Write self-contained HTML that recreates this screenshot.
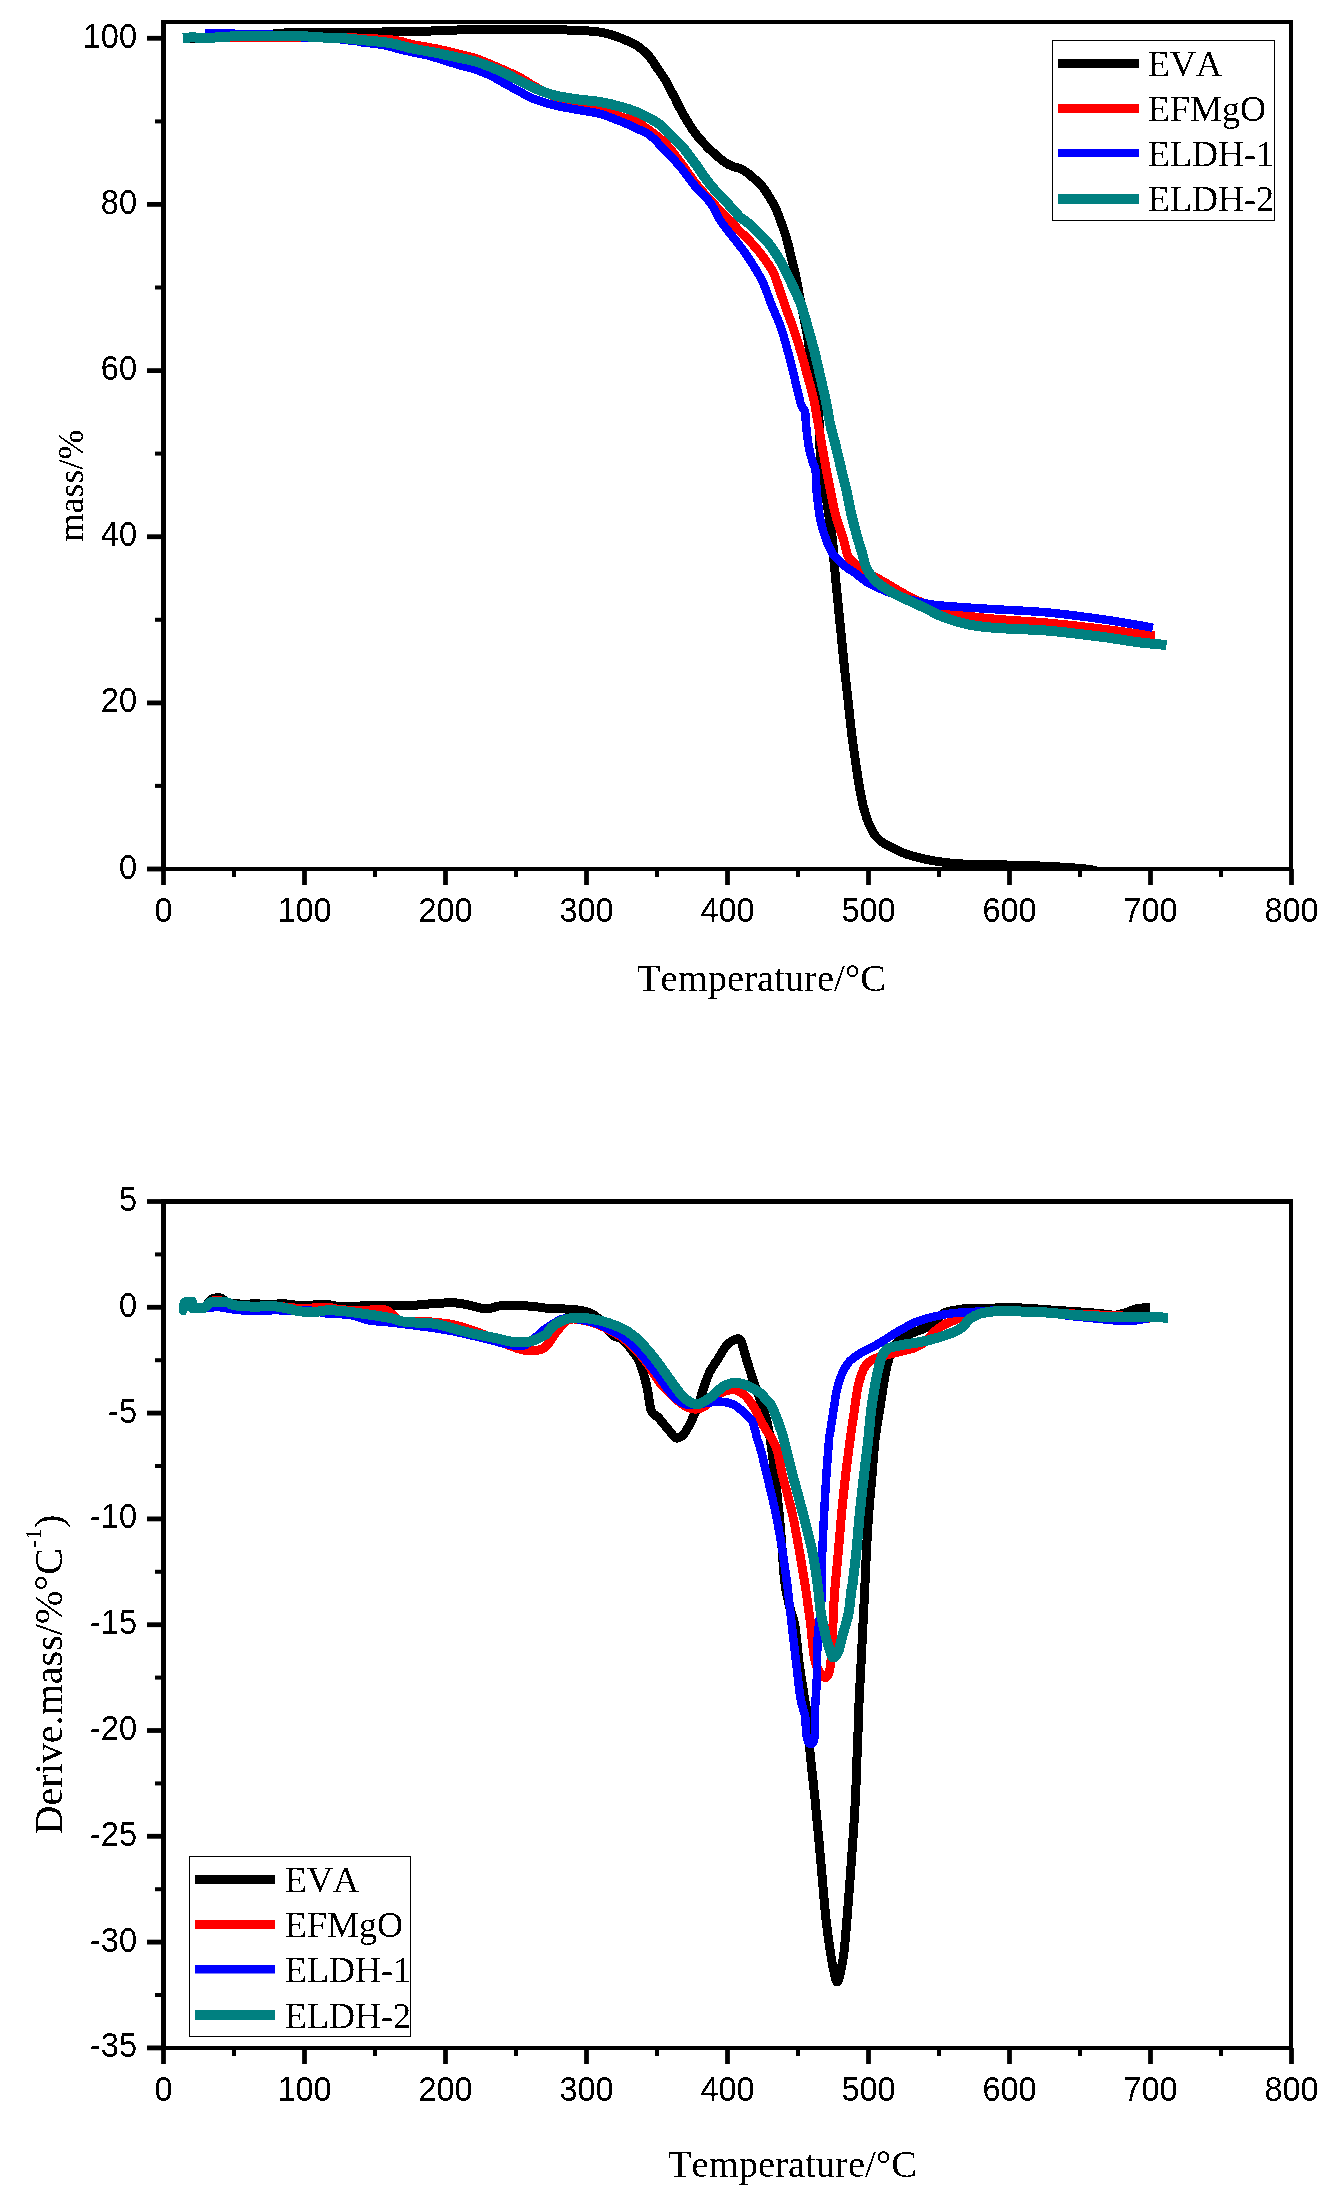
<!DOCTYPE html>
<html><head><meta charset="utf-8"><style>html,body{margin:0;padding:0;background:#fff;}svg{display:block;}</style></head>
<body><svg width="1330" height="2197" viewBox="0 0 1330 2197"><defs><filter id="al" x="0" y="0" width="1" height="1" filterUnits="objectBoundingBox"><feComponentTransfer><feFuncA type="discrete" tableValues="0 1"/></feComponentTransfer></filter><clipPath id="c1"><rect x="163" y="22" width="1128" height="847"/></clipPath><clipPath id="c2"><rect x="163" y="1201" width="1128" height="847"/></clipPath></defs>
<rect x="161" y="20" width="5" height="851" fill="#000"/>
<rect x="161" y="20" width="1132" height="4" fill="#000"/>
<rect x="1289" y="20" width="4" height="851" fill="#000"/>
<rect x="161" y="867" width="1132" height="4" fill="#000"/>
<rect x="161.1" y="869" width="4.8" height="16" fill="#000"/>
<rect x="232.0" y="869" width="4" height="8" fill="#000"/>
<rect x="302.1" y="869" width="4.8" height="16" fill="#000"/>
<rect x="373.0" y="869" width="4" height="8" fill="#000"/>
<rect x="443.1" y="869" width="4.8" height="16" fill="#000"/>
<rect x="514.0" y="869" width="4" height="8" fill="#000"/>
<rect x="584.1" y="869" width="4.8" height="16" fill="#000"/>
<rect x="655.0" y="869" width="4" height="8" fill="#000"/>
<rect x="725.1" y="869" width="4.8" height="16" fill="#000"/>
<rect x="796.0" y="869" width="4" height="8" fill="#000"/>
<rect x="866.1" y="869" width="4.8" height="16" fill="#000"/>
<rect x="937.0" y="869" width="4" height="8" fill="#000"/>
<rect x="1007.1" y="869" width="4.8" height="16" fill="#000"/>
<rect x="1078.0" y="869" width="4" height="8" fill="#000"/>
<rect x="1148.1" y="869" width="4.8" height="16" fill="#000"/>
<rect x="1219.0" y="869" width="4" height="8" fill="#000"/>
<rect x="1289.1" y="869" width="4.8" height="16" fill="#000"/>
<rect x="147" y="866.6" width="15" height="4.8" fill="#000"/>
<rect x="155" y="783.9" width="7" height="4" fill="#000"/>
<rect x="147" y="700.5" width="15" height="4.8" fill="#000"/>
<rect x="155" y="617.8" width="7" height="4" fill="#000"/>
<rect x="147" y="534.3" width="15" height="4.8" fill="#000"/>
<rect x="155" y="451.6" width="7" height="4" fill="#000"/>
<rect x="147" y="368.2" width="15" height="4.8" fill="#000"/>
<rect x="155" y="285.5" width="7" height="4" fill="#000"/>
<rect x="147" y="202.0" width="15" height="4.8" fill="#000"/>
<rect x="155" y="119.4" width="7" height="4" fill="#000"/>
<rect x="147" y="35.9" width="15" height="4.8" fill="#000"/>
<text filter="url(#al)" transform="translate(137,878.5) scale(1,1.07)" font-family="Liberation Sans" font-size="32.5" text-anchor="end">0</text>
<text filter="url(#al)" transform="translate(137,712.4) scale(1,1.07)" font-family="Liberation Sans" font-size="32.5" text-anchor="end">20</text>
<text filter="url(#al)" transform="translate(137,546.2) scale(1,1.07)" font-family="Liberation Sans" font-size="32.5" text-anchor="end">40</text>
<text filter="url(#al)" transform="translate(137,380.1) scale(1,1.07)" font-family="Liberation Sans" font-size="32.5" text-anchor="end">60</text>
<text filter="url(#al)" transform="translate(137,213.9) scale(1,1.07)" font-family="Liberation Sans" font-size="32.5" text-anchor="end">80</text>
<text filter="url(#al)" transform="translate(137,47.8) scale(1,1.07)" font-family="Liberation Sans" font-size="32.5" text-anchor="end">100</text>
<text filter="url(#al)" transform="translate(163.5,922) scale(1,1.07)" font-family="Liberation Sans" font-size="32.5" text-anchor="middle">0</text>
<text filter="url(#al)" transform="translate(304.5,922) scale(1,1.07)" font-family="Liberation Sans" font-size="32.5" text-anchor="middle">100</text>
<text filter="url(#al)" transform="translate(445.5,922) scale(1,1.07)" font-family="Liberation Sans" font-size="32.5" text-anchor="middle">200</text>
<text filter="url(#al)" transform="translate(586.5,922) scale(1,1.07)" font-family="Liberation Sans" font-size="32.5" text-anchor="middle">300</text>
<text filter="url(#al)" transform="translate(727.5,922) scale(1,1.07)" font-family="Liberation Sans" font-size="32.5" text-anchor="middle">400</text>
<text filter="url(#al)" transform="translate(868.5,922) scale(1,1.07)" font-family="Liberation Sans" font-size="32.5" text-anchor="middle">500</text>
<text filter="url(#al)" transform="translate(1009.5,922) scale(1,1.07)" font-family="Liberation Sans" font-size="32.5" text-anchor="middle">600</text>
<text filter="url(#al)" transform="translate(1150.5,922) scale(1,1.07)" font-family="Liberation Sans" font-size="32.5" text-anchor="middle">700</text>
<text filter="url(#al)" transform="translate(1291.5,922) scale(1,1.07)" font-family="Liberation Sans" font-size="32.5" text-anchor="middle">800</text>
<rect x="161" y="1199" width="5" height="851" fill="#000"/>
<rect x="161" y="1199" width="1132" height="5" fill="#000"/>
<rect x="1289" y="1199" width="4" height="851" fill="#000"/>
<rect x="161" y="2046" width="1132" height="4" fill="#000"/>
<rect x="161.1" y="2048" width="4.8" height="16" fill="#000"/>
<rect x="232.0" y="2048" width="4" height="8" fill="#000"/>
<rect x="302.1" y="2048" width="4.8" height="16" fill="#000"/>
<rect x="373.0" y="2048" width="4" height="8" fill="#000"/>
<rect x="443.1" y="2048" width="4.8" height="16" fill="#000"/>
<rect x="514.0" y="2048" width="4" height="8" fill="#000"/>
<rect x="584.1" y="2048" width="4.8" height="16" fill="#000"/>
<rect x="655.0" y="2048" width="4" height="8" fill="#000"/>
<rect x="725.1" y="2048" width="4.8" height="16" fill="#000"/>
<rect x="796.0" y="2048" width="4" height="8" fill="#000"/>
<rect x="866.1" y="2048" width="4.8" height="16" fill="#000"/>
<rect x="937.0" y="2048" width="4" height="8" fill="#000"/>
<rect x="1007.1" y="2048" width="4.8" height="16" fill="#000"/>
<rect x="1078.0" y="2048" width="4" height="8" fill="#000"/>
<rect x="1148.1" y="2048" width="4.8" height="16" fill="#000"/>
<rect x="1219.0" y="2048" width="4" height="8" fill="#000"/>
<rect x="1289.1" y="2048" width="4.8" height="16" fill="#000"/>
<rect x="147" y="1199.1" width="15" height="4.8" fill="#000"/>
<rect x="155" y="1252.4" width="7" height="4" fill="#000"/>
<rect x="147" y="1304.9" width="15" height="4.8" fill="#000"/>
<rect x="155" y="1358.2" width="7" height="4" fill="#000"/>
<rect x="147" y="1410.7" width="15" height="4.8" fill="#000"/>
<rect x="155" y="1464.0" width="7" height="4" fill="#000"/>
<rect x="147" y="1516.5" width="15" height="4.8" fill="#000"/>
<rect x="155" y="1569.8" width="7" height="4" fill="#000"/>
<rect x="147" y="1622.3" width="15" height="4.8" fill="#000"/>
<rect x="155" y="1675.6" width="7" height="4" fill="#000"/>
<rect x="147" y="1728.1" width="15" height="4.8" fill="#000"/>
<rect x="155" y="1781.4" width="7" height="4" fill="#000"/>
<rect x="147" y="1833.9" width="15" height="4.8" fill="#000"/>
<rect x="155" y="1887.2" width="7" height="4" fill="#000"/>
<rect x="147" y="1939.7" width="15" height="4.8" fill="#000"/>
<rect x="155" y="1993.0" width="7" height="4" fill="#000"/>
<rect x="147" y="2045.5" width="15" height="4.8" fill="#000"/>
<text filter="url(#al)" transform="translate(137,1211.0) scale(1,1.07)" font-family="Liberation Sans" font-size="32.5" text-anchor="end">5</text>
<text filter="url(#al)" transform="translate(137,1316.8) scale(1,1.07)" font-family="Liberation Sans" font-size="32.5" text-anchor="end">0</text>
<text filter="url(#al)" transform="translate(137,1422.6) scale(1,1.07)" font-family="Liberation Sans" font-size="32.5" text-anchor="end">-5</text>
<text filter="url(#al)" transform="translate(137,1528.4) scale(1,1.07)" font-family="Liberation Sans" font-size="32.5" text-anchor="end">-10</text>
<text filter="url(#al)" transform="translate(137,1634.2) scale(1,1.07)" font-family="Liberation Sans" font-size="32.5" text-anchor="end">-15</text>
<text filter="url(#al)" transform="translate(137,1740.0) scale(1,1.07)" font-family="Liberation Sans" font-size="32.5" text-anchor="end">-20</text>
<text filter="url(#al)" transform="translate(137,1845.8) scale(1,1.07)" font-family="Liberation Sans" font-size="32.5" text-anchor="end">-25</text>
<text filter="url(#al)" transform="translate(137,1951.6) scale(1,1.07)" font-family="Liberation Sans" font-size="32.5" text-anchor="end">-30</text>
<text filter="url(#al)" transform="translate(137,2057.4) scale(1,1.07)" font-family="Liberation Sans" font-size="32.5" text-anchor="end">-35</text>
<text filter="url(#al)" transform="translate(163.5,2101) scale(1,1.07)" font-family="Liberation Sans" font-size="32.5" text-anchor="middle">0</text>
<text filter="url(#al)" transform="translate(304.5,2101) scale(1,1.07)" font-family="Liberation Sans" font-size="32.5" text-anchor="middle">100</text>
<text filter="url(#al)" transform="translate(445.5,2101) scale(1,1.07)" font-family="Liberation Sans" font-size="32.5" text-anchor="middle">200</text>
<text filter="url(#al)" transform="translate(586.5,2101) scale(1,1.07)" font-family="Liberation Sans" font-size="32.5" text-anchor="middle">300</text>
<text filter="url(#al)" transform="translate(727.5,2101) scale(1,1.07)" font-family="Liberation Sans" font-size="32.5" text-anchor="middle">400</text>
<text filter="url(#al)" transform="translate(868.5,2101) scale(1,1.07)" font-family="Liberation Sans" font-size="32.5" text-anchor="middle">500</text>
<text filter="url(#al)" transform="translate(1009.5,2101) scale(1,1.07)" font-family="Liberation Sans" font-size="32.5" text-anchor="middle">600</text>
<text filter="url(#al)" transform="translate(1150.5,2101) scale(1,1.07)" font-family="Liberation Sans" font-size="32.5" text-anchor="middle">700</text>
<text filter="url(#al)" transform="translate(1291.5,2101) scale(1,1.07)" font-family="Liberation Sans" font-size="32.5" text-anchor="middle">800</text>
<text filter="url(#al)" x="761.5" y="991" font-family="Liberation Serif" font-size="38.6" style="font-kerning:none" text-anchor="middle" >Temperature/°C</text>
<text filter="url(#al)" x="792.5" y="2177" font-family="Liberation Serif" font-size="38.6" style="font-kerning:none" text-anchor="middle" >Temperature/°C</text>
<text filter="url(#al)" transform="translate(83,485.5) rotate(-90)" font-family="Liberation Serif" font-size="36" text-anchor="middle">mass/%</text>
<text filter="url(#al)" transform="translate(62,1674.5) rotate(-90)" font-family="Liberation Serif" font-size="40.1" text-anchor="middle" style="font-kerning:none">Derive.mass/%°C<tspan font-size="24" dy="-20.8">-1</tspan><tspan dy="20.8">)</tspan></text>
<path d="M183.0,38.5 C190.8,38.3 215.2,38.2 230.0,37.5 C244.8,36.8 264.1,34.9 272.0,34.2 C279.9,33.5 270.7,33.6 277.5,33.3 C284.3,33.0 299.1,32.4 312.9,32.2 C326.6,32.0 342.8,32.3 360.0,32.2 C377.2,32.1 402.2,31.8 416.0,31.5 C429.8,31.2 434.0,30.8 443.0,30.5 C452.0,30.2 453.8,29.9 470.0,29.8 C486.2,29.7 525.0,29.6 540.0,29.6 C555.0,29.6 552.5,29.6 560.0,29.8 C567.5,30.0 579.0,30.5 585.0,30.8 C591.0,31.1 592.7,31.2 596.0,31.6 C599.3,32.0 601.6,32.2 605.0,33.0 C608.4,33.8 612.6,35.2 616.4,36.5 C620.2,37.8 624.6,39.7 627.7,41.0 C630.8,42.3 633.0,43.2 635.2,44.5 C637.4,45.8 638.6,46.6 641.0,48.6 C643.4,50.6 646.9,53.7 649.5,56.8 C652.1,59.9 654.2,63.5 656.8,67.4 C659.4,71.3 662.7,75.6 665.3,80.0 C667.9,84.4 670.1,89.0 672.6,93.7 C675.1,98.4 677.8,104.2 680.0,108.4 C682.2,112.6 683.5,115.0 686.0,119.0 C688.5,123.0 691.2,128.0 694.7,132.6 C698.2,137.2 703.2,142.7 706.8,146.5 C710.4,150.3 713.4,152.8 716.5,155.5 C719.6,158.2 722.5,160.8 725.2,162.6 C727.9,164.4 730.2,165.4 732.7,166.4 C735.2,167.4 737.7,167.5 740.2,168.6 C742.7,169.7 744.9,171.1 747.7,173.2 C750.5,175.3 754.3,178.7 756.8,181.0 C759.3,183.3 760.4,184.1 762.6,186.9 C764.8,189.7 767.6,194.1 769.8,197.7 C772.0,201.3 773.8,204.2 775.8,208.6 C777.8,213.0 780.0,219.2 781.8,224.2 C783.6,229.2 785.0,233.0 786.6,238.6 C788.2,244.2 789.8,251.3 791.4,257.9 C793.0,264.5 794.6,270.6 796.2,278.3 C797.8,286.0 799.4,295.7 801.0,304.0 C802.6,312.3 804.5,320.0 806.0,328.0 C807.5,336.0 808.5,344.0 810.0,352.0 C811.5,360.0 813.8,368.0 815.0,376.0 C816.2,384.0 816.8,392.7 817.5,400.0 C818.2,407.3 818.5,410.7 819.0,420.0 C819.5,429.3 819.4,444.0 820.5,456.0 C821.6,468.0 824.0,482.2 825.4,492.2 C826.8,502.2 827.8,508.2 829.0,516.2 C830.2,524.2 831.8,533.0 832.6,540.3 C833.4,547.6 833.1,550.7 833.9,560.0 C834.7,569.3 836.1,584.1 837.3,596.1 C838.5,608.1 839.7,620.2 840.9,632.2 C842.1,644.2 843.3,657.0 844.5,668.3 C845.7,679.6 846.8,688.7 848.0,700.0 C849.2,711.3 850.5,724.1 852.0,736.1 C853.5,748.1 855.5,761.6 857.1,772.2 C858.7,782.9 860.5,793.5 861.8,800.0 C863.1,806.5 863.6,807.6 864.7,811.3 C865.8,815.0 866.7,818.4 868.2,822.0 C869.7,825.6 871.5,829.8 873.5,833.0 C875.5,836.2 877.6,838.6 880.5,841.0 C883.4,843.4 887.0,845.1 891.0,847.2 C895.0,849.3 899.1,851.5 904.6,853.5 C910.1,855.5 917.8,857.6 924.0,859.0 C930.2,860.4 935.5,861.2 942.0,862.0 C948.5,862.8 949.0,863.4 963.0,864.0 C977.0,864.6 1008.5,864.9 1026.0,865.5 C1043.5,866.1 1057.3,866.8 1068.0,867.5 C1078.7,868.2 1084.3,868.8 1090.0,869.5 C1095.7,870.2 1092.0,871.0 1102.0,871.5 C1112.0,872.0 1142.0,872.3 1150.0,872.5" fill="none" stroke="#000000" stroke-width="9" stroke-linejoin="round" stroke-linecap="butt" shape-rendering="crispEdges" clip-path="url(#c1)"/>
<path d="M183.0,38.0 C191.0,37.9 211.5,37.7 231.0,37.6 C250.5,37.5 281.0,37.5 300.0,37.5 C319.0,37.5 335.0,37.4 345.0,37.5 C355.0,37.6 352.5,37.8 360.0,38.2 C367.5,38.6 383.1,39.1 390.0,39.7 C396.9,40.3 397.6,40.8 401.4,41.6 C405.2,42.4 408.2,43.7 412.6,44.6 C417.0,45.5 422.7,46.3 427.7,47.2 C432.7,48.1 437.3,49.0 442.7,50.2 C448.1,51.4 454.6,53.2 460.0,54.5 C465.4,55.8 470.0,56.6 475.0,58.2 C480.0,59.8 485.1,62.1 490.1,64.2 C495.1,66.3 500.1,68.3 505.1,70.6 C510.1,72.9 515.2,75.1 520.2,77.8 C525.2,80.5 529.4,83.6 535.2,86.8 C541.0,90.0 548.4,93.8 555.0,97.0 C561.6,100.2 568.7,103.8 575.0,106.0 C581.3,108.2 587.2,109.0 592.6,110.2 C598.0,111.4 602.6,111.7 607.6,112.9 C612.6,114.1 617.7,115.8 622.7,117.4 C627.7,119.0 633.2,120.3 637.7,122.6 C642.2,124.9 645.5,127.6 650.0,131.0 C654.5,134.4 660.0,137.9 665.0,143.0 C670.0,148.1 675.1,155.2 680.1,161.8 C685.1,168.5 690.1,176.5 695.1,182.9 C700.1,189.3 705.2,194.7 710.2,200.2 C715.2,205.7 720.2,210.7 725.2,215.9 C730.2,221.2 736.4,227.8 740.2,231.7 C744.0,235.6 744.8,235.6 748.1,239.2 C751.4,242.8 756.2,247.9 760.2,253.1 C764.2,258.3 769.2,265.2 772.2,270.5 C775.2,275.8 776.0,279.4 778.0,285.0 C780.0,290.6 782.0,296.9 784.5,304.1 C787.0,311.3 790.5,320.1 793.2,328.1 C796.0,336.1 798.6,344.2 801.0,352.2 C803.4,360.2 805.4,368.2 807.6,376.2 C809.8,384.2 812.4,393.0 814.0,400.3 C815.6,407.6 816.2,412.7 817.5,420.0 C818.8,427.3 820.3,436.1 821.7,444.1 C823.1,452.1 824.5,460.1 826.0,468.1 C827.5,476.1 829.1,484.2 830.8,492.2 C832.4,500.2 833.7,508.2 835.9,516.2 C838.1,524.2 841.8,533.7 843.8,540.3 C845.8,546.9 846.0,551.9 848.0,556.0 C850.0,560.1 853.0,562.3 856.0,565.0 C859.0,567.7 861.3,569.2 866.0,572.0 C870.7,574.8 876.0,577.5 884.0,582.0 C892.0,586.5 903.0,593.8 914.0,599.0 C925.0,604.2 936.7,609.7 950.0,613.0 C963.3,616.3 977.7,617.3 994.0,619.0 C1010.3,620.7 1030.0,621.3 1048.0,623.0 C1066.0,624.7 1086.9,627.2 1102.0,629.0 C1117.1,630.8 1129.7,632.8 1138.5,634.0 C1147.3,635.2 1152.2,635.7 1155.0,636.0" fill="none" stroke="#ff0000" stroke-width="9" stroke-linejoin="round" stroke-linecap="butt" shape-rendering="crispEdges" clip-path="url(#c1)"/>
<path d="M205.0,33.3 C212.5,33.4 238.8,33.8 250.0,34.0 C261.2,34.2 263.2,34.1 272.0,34.7 C280.8,35.3 293.2,36.8 303.0,37.4 C312.8,38.0 324.7,37.9 331.0,38.2 C337.3,38.5 338.5,39.0 341.0,39.3 C343.5,39.6 343.3,39.7 346.0,40.0 C348.7,40.3 354.3,40.8 357.0,41.2 C359.7,41.6 357.7,41.7 362.0,42.3 C366.3,42.9 375.4,43.5 382.6,44.9 C389.8,46.3 397.6,48.9 405.1,50.6 C412.6,52.4 421.4,53.8 427.7,55.4 C434.0,57.0 437.3,58.4 442.7,60.0 C448.1,61.6 454.6,63.7 460.0,65.3 C465.4,66.9 470.0,67.7 475.0,69.4 C480.0,71.1 485.1,73.0 490.1,75.4 C495.1,77.8 500.1,80.9 505.1,83.7 C510.1,86.5 515.2,89.4 520.2,92.0 C525.2,94.6 529.4,97.3 535.2,99.5 C541.0,101.7 547.9,103.7 555.0,105.4 C562.1,107.1 570.1,108.4 577.6,109.8 C585.1,111.2 592.6,111.8 600.1,113.9 C607.6,116.0 616.4,119.7 622.7,122.2 C629.0,124.7 633.2,126.8 637.7,129.0 C642.2,131.2 645.5,131.7 650.0,135.3 C654.5,138.9 660.0,145.2 665.0,150.4 C670.0,155.6 675.1,160.7 680.1,166.7 C685.1,172.7 690.1,180.2 695.1,186.2 C700.1,192.2 705.9,196.8 710.2,202.6 C714.5,208.4 716.4,214.7 720.7,221.1 C725.0,227.5 731.5,235.0 736.1,241.0 C740.7,247.0 743.8,250.8 748.1,257.3 C752.4,263.8 757.8,272.2 761.7,280.0 C765.6,287.8 768.1,296.1 771.3,304.1 C774.5,312.1 778.3,320.1 781.1,328.1 C783.9,336.1 785.9,344.2 788.1,352.2 C790.3,360.2 792.2,368.2 794.1,376.2 C796.0,384.2 798.6,395.0 799.8,400.0 C801.0,405.0 800.6,404.0 801.5,406.0 C802.4,408.0 804.2,409.0 805.0,412.0 C805.8,415.0 805.5,418.7 806.0,424.0 C806.5,429.3 807.5,438.7 808.3,444.0 C809.1,449.3 810.2,452.8 811.0,456.0 C811.8,459.2 812.2,460.7 813.0,463.0 C813.8,465.3 814.9,465.2 815.5,470.0 C816.1,474.8 816.0,484.3 816.7,492.0 C817.4,499.7 818.8,510.0 819.7,516.0 C820.6,522.0 821.2,524.0 822.3,528.0 C823.4,532.0 825.0,536.5 826.3,540.0 C827.6,543.5 828.4,546.0 830.0,549.0 C831.6,552.0 833.3,555.0 836.0,558.0 C838.7,561.0 842.8,564.5 846.0,567.0 C849.2,569.5 850.7,570.0 855.0,573.0 C859.3,576.0 863.2,580.7 872.0,585.0 C880.8,589.3 898.0,595.8 908.0,599.0 C918.0,602.2 923.3,603.2 932.0,604.5 C940.7,605.8 949.7,606.2 960.0,607.0 C970.3,607.8 979.3,608.3 994.0,609.2 C1008.7,610.1 1030.0,610.8 1048.0,612.5 C1066.0,614.2 1086.9,617.1 1102.0,619.2 C1117.1,621.3 1130.0,623.7 1138.5,625.1 C1147.0,626.5 1150.6,627.3 1153.0,627.8" fill="none" stroke="#0000ff" stroke-width="8.5" stroke-linejoin="round" stroke-linecap="butt" shape-rendering="crispEdges" clip-path="url(#c1)"/>
<path d="M183.0,38.4 C184.7,38.2 190.2,37.3 193.0,37.2 C195.8,37.1 196.3,38.0 200.0,38.0 C203.7,38.0 210.0,37.8 215.0,37.5 C220.0,37.2 224.2,36.8 230.0,36.5 C235.8,36.2 243.3,36.1 250.0,36.0 C256.7,35.9 260.4,35.7 270.0,35.8 C279.6,35.9 298.8,36.2 307.6,36.5 C316.4,36.8 316.3,37.2 322.6,37.5 C328.9,37.8 339.0,38.0 345.2,38.4 C351.4,38.8 352.5,39.1 360.0,39.9 C367.5,40.7 381.2,41.5 390.0,43.0 C398.8,44.5 405.1,47.0 412.6,48.6 C420.1,50.2 427.3,51.1 435.2,52.7 C443.1,54.3 453.4,56.5 460.0,58.0 C466.6,59.5 470.0,59.9 475.0,61.4 C480.0,62.9 485.1,64.7 490.1,66.7 C495.1,68.7 500.1,71.0 505.1,73.4 C510.1,75.8 515.2,78.5 520.2,81.0 C525.2,83.5 529.4,86.1 535.2,88.5 C541.0,90.9 547.9,93.7 555.0,95.5 C562.1,97.3 570.1,98.3 577.6,99.4 C585.1,100.5 592.6,100.7 600.1,102.0 C607.6,103.3 616.4,105.5 622.7,107.3 C629.0,109.0 633.2,110.6 637.7,112.5 C642.2,114.4 646.5,116.7 650.0,118.6 C653.5,120.5 655.9,121.5 659.0,123.9 C662.1,126.3 664.7,128.8 668.8,132.9 C672.9,137.0 679.4,143.5 683.8,148.6 C688.2,153.7 690.7,157.5 695.1,163.5 C699.5,169.5 705.2,178.4 710.2,184.6 C715.2,190.8 720.2,195.4 725.2,200.8 C730.2,206.2 736.4,213.6 740.2,217.3 C744.0,221.0 743.8,219.1 748.1,223.0 C752.4,226.9 761.2,234.8 766.2,240.5 C771.2,246.2 774.2,250.7 778.2,257.3 C782.2,263.9 786.1,272.2 789.9,280.0 C793.7,287.8 797.8,296.1 800.8,304.1 C803.8,312.1 805.7,320.1 808.0,328.1 C810.3,336.1 812.6,344.2 814.6,352.2 C816.6,360.2 818.4,368.2 820.2,376.2 C822.1,384.2 824.0,392.3 825.7,400.3 C827.4,408.3 828.6,417.1 830.2,424.4 C831.8,431.7 833.5,436.8 835.3,444.1 C837.1,451.4 839.1,460.1 841.0,468.1 C842.9,476.1 845.0,484.2 846.8,492.2 C848.6,500.2 849.9,508.2 851.8,516.2 C853.7,524.2 856.4,534.0 858.2,540.3 C860.0,546.6 861.0,549.4 862.4,554.0 C863.8,558.6 864.4,563.7 866.4,568.0 C868.4,572.3 870.6,576.1 874.6,580.0 C878.6,583.9 884.6,587.9 890.2,591.3 C895.8,594.7 902.3,597.4 908.3,600.3 C914.3,603.2 920.7,606.0 926.3,608.7 C931.9,611.4 935.2,613.9 942.0,616.5 C948.8,619.1 958.3,622.3 967.0,624.2 C975.7,626.1 980.6,626.7 994.1,627.8 C1007.6,628.9 1030.2,629.2 1048.3,630.7 C1066.3,632.2 1087.4,635.0 1102.4,636.9 C1117.4,638.8 1127.8,640.9 1138.5,642.3 C1149.2,643.6 1161.8,644.5 1166.5,645.0" fill="none" stroke="#008080" stroke-width="10" stroke-linejoin="round" stroke-linecap="butt" shape-rendering="crispEdges" clip-path="url(#c1)"/>
<path d="M191.0,1307.0 C191.7,1307.0 193.0,1306.8 195.0,1307.0 C197.0,1307.2 200.7,1309.1 203.0,1308.3 C205.3,1307.5 207.3,1303.6 209.0,1302.0 C210.7,1300.4 211.7,1299.2 213.0,1298.5 C214.3,1297.8 215.7,1297.9 217.0,1297.8 C218.3,1297.7 219.8,1297.6 221.0,1298.0 C222.2,1298.4 222.5,1299.1 224.0,1300.0 C225.5,1300.9 227.3,1302.8 230.0,1303.5 C232.7,1304.2 235.0,1303.9 240.0,1304.0 C245.0,1304.1 254.7,1303.9 260.0,1304.0 C265.3,1304.1 268.3,1304.5 272.0,1304.4 C275.7,1304.3 279.0,1303.6 282.0,1303.6 C285.0,1303.6 287.0,1304.1 290.0,1304.4 C293.0,1304.7 296.7,1305.3 300.0,1305.5 C303.3,1305.7 307.2,1305.7 310.0,1305.5 C312.8,1305.3 314.2,1304.6 317.0,1304.4 C319.8,1304.2 323.2,1304.0 327.0,1304.4 C330.8,1304.8 334.5,1306.3 340.0,1306.6 C345.5,1306.9 349.2,1306.1 360.0,1306.0 C370.8,1305.9 392.5,1306.2 405.0,1305.8 C417.5,1305.4 426.4,1304.0 435.2,1303.5 C444.0,1303.0 450.2,1302.3 457.7,1303.1 C465.2,1303.8 475.3,1307.0 480.3,1308.0 C485.3,1309.0 484.0,1309.2 487.8,1308.8 C491.6,1308.4 496.6,1305.9 502.9,1305.4 C509.2,1304.9 519.1,1305.5 525.4,1305.8 C531.7,1306.1 536.4,1306.8 540.5,1307.3 C544.6,1307.8 544.4,1308.2 550.0,1308.6 C555.6,1309.0 567.5,1308.8 574.1,1309.5 C580.7,1310.2 585.3,1311.1 589.7,1312.9 C594.1,1314.7 596.7,1316.4 600.5,1320.1 C604.3,1323.8 609.0,1331.9 612.6,1335.1 C616.2,1338.3 619.0,1336.8 622.2,1339.3 C625.4,1341.8 628.9,1346.4 631.8,1350.2 C634.7,1354.0 637.1,1356.2 639.6,1362.2 C642.1,1368.2 644.9,1378.2 646.8,1386.2 C648.7,1394.2 649.2,1405.1 651.1,1410.3 C653.0,1415.5 656.1,1415.1 658.3,1417.5 C660.5,1419.9 662.3,1422.3 664.3,1424.7 C666.3,1427.1 668.3,1429.8 670.3,1432.0 C672.3,1434.2 674.1,1437.6 676.3,1438.0 C678.5,1438.4 681.1,1437.0 683.5,1434.4 C685.9,1431.8 688.4,1427.1 690.8,1422.3 C693.2,1417.5 696.0,1410.9 698.0,1405.5 C700.0,1400.1 701.1,1395.5 703.0,1390.0 C704.9,1384.5 707.1,1377.4 709.6,1372.2 C712.1,1367.0 715.2,1363.3 718.0,1358.9 C720.8,1354.5 723.5,1349.0 726.5,1345.7 C729.5,1342.4 733.7,1339.9 736.1,1339.1 C738.5,1338.3 739.3,1338.0 740.9,1340.9 C742.5,1343.8 744.1,1351.3 745.7,1356.5 C747.3,1361.7 748.9,1367.2 750.5,1372.2 C752.1,1377.2 753.7,1382.0 755.3,1386.6 C756.9,1391.2 758.6,1395.2 760.2,1399.8 C761.8,1404.4 763.6,1409.5 765.0,1414.3 C766.4,1419.1 767.6,1423.7 768.6,1428.7 C769.6,1433.7 769.9,1436.5 771.0,1444.4 C772.1,1452.3 773.7,1464.7 775.0,1476.0 C776.3,1487.3 777.8,1500.0 779.0,1512.0 C780.2,1524.0 781.0,1536.0 782.0,1548.0 C783.0,1560.0 783.7,1574.0 785.0,1584.0 C786.3,1594.0 788.3,1601.0 790.0,1608.0 C791.7,1615.0 793.5,1617.0 795.0,1626.0 C796.5,1635.0 797.4,1650.0 799.0,1662.0 C800.6,1674.0 803.0,1688.3 804.5,1698.0 C806.0,1707.7 807.1,1711.0 808.0,1720.0 C808.9,1729.0 808.8,1738.8 810.0,1752.0 C811.2,1765.2 813.2,1781.3 815.0,1799.0 C816.8,1816.7 818.7,1838.2 820.5,1858.0 C822.3,1877.8 824.1,1901.7 825.8,1917.5 C827.5,1933.3 829.1,1943.9 830.5,1953.0 C831.9,1962.1 832.9,1967.2 834.0,1972.0 C835.1,1976.8 836.1,1982.0 837.2,1982.0 C838.3,1982.0 839.4,1976.8 840.5,1972.0 C841.6,1967.2 842.8,1962.1 843.9,1953.0 C845.0,1943.9 845.8,1933.3 847.1,1917.5 C848.4,1901.7 850.2,1878.0 851.6,1858.3 C853.0,1838.6 854.5,1817.0 855.4,1799.2 C856.3,1781.5 856.7,1765.0 857.2,1751.8 C857.7,1738.6 858.2,1728.9 858.5,1720.0 C858.8,1711.1 858.8,1707.9 859.2,1698.3 C859.6,1688.7 860.5,1674.2 861.1,1662.2 C861.7,1650.2 862.3,1638.1 862.9,1626.1 C863.5,1614.1 864.1,1603.0 864.7,1590.0 C865.3,1577.0 865.9,1561.3 866.6,1548.3 C867.3,1535.3 867.9,1524.2 868.8,1512.2 C869.7,1500.2 871.0,1488.1 872.0,1476.1 C873.0,1464.1 873.8,1450.6 875.0,1440.0 C876.2,1429.4 878.0,1420.9 879.3,1412.3 C880.6,1403.7 881.9,1394.8 882.9,1388.3 C883.9,1381.8 884.6,1377.4 885.5,1373.0 C886.4,1368.6 886.8,1366.2 888.0,1362.0 C889.2,1357.8 890.6,1352.0 893.0,1348.0 C895.4,1344.0 898.7,1340.3 902.2,1337.7 C905.7,1335.1 910.2,1334.0 914.2,1332.3 C918.2,1330.6 922.6,1329.5 926.2,1327.5 C929.8,1325.5 932.9,1322.4 935.9,1320.0 C938.9,1317.6 940.9,1314.7 944.3,1313.0 C947.7,1311.3 952.0,1310.8 956.3,1310.0 C960.6,1309.2 964.4,1308.5 970.0,1308.3 C975.6,1308.0 984.2,1308.7 990.0,1308.5 C995.8,1308.3 998.3,1307.3 1005.0,1307.3 C1011.7,1307.3 1021.7,1308.0 1030.0,1308.5 C1038.3,1309.0 1046.7,1309.7 1055.0,1310.3 C1063.3,1310.9 1071.7,1311.3 1080.0,1311.9 C1088.3,1312.5 1099.2,1313.5 1105.0,1314.1 C1110.8,1314.6 1112.0,1315.3 1115.0,1315.2 C1118.0,1315.1 1120.5,1314.1 1123.0,1313.4 C1125.5,1312.7 1127.5,1311.9 1130.0,1311.1 C1132.5,1310.3 1134.7,1309.1 1138.0,1308.5 C1141.3,1307.9 1148.0,1307.5 1150.0,1307.3" fill="none" stroke="#000000" stroke-width="9" stroke-linejoin="round" stroke-linecap="butt" shape-rendering="crispEdges" clip-path="url(#c2)"/>
<path d="M191.0,1308.0 C192.5,1308.0 197.5,1308.1 200.0,1308.0 C202.5,1307.9 204.2,1308.5 206.0,1307.5 C207.8,1306.5 209.3,1303.0 211.0,1301.8 C212.7,1300.6 214.2,1300.5 216.0,1300.4 C217.8,1300.3 220.3,1300.6 222.0,1301.0 C223.7,1301.4 224.3,1302.3 226.0,1303.0 C227.7,1303.7 226.3,1304.4 232.0,1305.0 C237.7,1305.6 251.2,1306.2 260.0,1306.5 C268.8,1306.8 278.3,1306.7 285.0,1307.0 C291.7,1307.3 294.2,1308.4 300.0,1308.5 C305.8,1308.6 315.0,1307.7 320.0,1307.5 C325.0,1307.3 326.7,1307.2 330.0,1307.5 C333.3,1307.8 335.0,1309.0 340.0,1309.5 C345.0,1310.0 353.7,1310.8 360.0,1310.8 C366.3,1310.8 373.3,1309.3 378.0,1309.3 C382.7,1309.3 385.0,1309.5 388.0,1311.0 C391.0,1312.5 393.3,1316.1 396.0,1318.0 C398.7,1319.9 399.7,1322.0 404.0,1322.5 C408.3,1323.0 416.5,1321.3 421.7,1321.3 C426.9,1321.3 430.5,1322.0 435.2,1322.4 C439.9,1322.9 444.5,1322.9 450.0,1324.0 C455.5,1325.1 461.6,1326.7 468.3,1328.9 C475.0,1331.1 483.0,1334.2 490.0,1337.0 C497.0,1339.8 504.5,1343.7 510.4,1345.9 C516.3,1348.1 520.4,1349.8 525.4,1350.4 C530.4,1351.0 536.7,1350.6 540.5,1349.6 C544.3,1348.6 545.6,1346.9 548.0,1344.3 C550.4,1341.7 552.1,1337.8 555.0,1334.0 C557.9,1330.2 562.4,1323.8 565.6,1321.3 C568.8,1318.8 570.7,1319.0 574.1,1319.0 C577.5,1319.0 582.1,1320.1 586.1,1321.0 C590.1,1321.9 594.1,1322.9 598.1,1324.5 C602.1,1326.1 606.2,1328.3 610.2,1330.5 C614.2,1332.7 618.2,1334.6 622.2,1337.5 C626.2,1340.4 630.2,1343.9 634.2,1348.0 C638.2,1352.1 641.8,1356.0 646.2,1362.0 C650.6,1368.0 656.7,1378.5 660.7,1383.8 C664.7,1389.0 666.7,1390.1 670.3,1393.5 C673.9,1396.9 678.3,1401.7 682.3,1404.3 C686.3,1406.9 690.8,1408.7 694.4,1409.1 C698.0,1409.5 701.1,1408.2 704.0,1406.7 C706.9,1405.2 708.6,1402.3 712.0,1399.8 C715.4,1397.2 720.1,1393.0 724.1,1391.4 C728.1,1389.8 732.5,1389.4 736.1,1390.2 C739.7,1391.0 742.6,1393.2 745.7,1396.2 C748.8,1399.2 752.3,1404.5 754.7,1408.3 C757.1,1412.1 758.3,1415.5 760.2,1419.1 C762.1,1422.7 763.9,1426.5 766.0,1430.0 C768.1,1433.5 770.8,1436.3 772.7,1440.0 C774.6,1443.7 775.9,1446.0 777.6,1452.0 C779.3,1458.0 780.3,1466.1 782.7,1476.1 C785.1,1486.1 789.3,1500.2 792.0,1512.2 C794.7,1524.2 796.7,1536.3 798.9,1548.3 C801.1,1560.3 803.5,1575.0 805.0,1584.4 C806.5,1593.9 807.0,1598.0 808.0,1605.0 C809.0,1612.0 809.9,1618.3 810.8,1626.1 C811.7,1633.9 812.5,1645.2 813.5,1652.0 C814.5,1658.8 815.6,1663.2 817.0,1667.0 C818.4,1670.8 820.5,1673.3 822.0,1675.0 C823.5,1676.7 825.0,1678.0 826.2,1677.3 C827.5,1676.6 828.6,1674.7 829.5,1671.0 C830.4,1667.3 831.0,1660.5 831.5,1655.0 C832.0,1649.5 832.2,1644.8 832.5,1638.0 C832.8,1631.2 833.0,1622.0 833.4,1614.0 C833.8,1606.0 833.9,1601.0 834.8,1590.0 C835.7,1579.0 837.5,1561.3 838.6,1548.3 C839.8,1535.3 840.6,1524.2 841.7,1512.2 C842.9,1500.2 844.1,1488.1 845.5,1476.1 C846.9,1464.1 848.7,1450.6 850.1,1440.0 C851.5,1429.4 852.8,1420.9 854.1,1412.3 C855.4,1403.7 856.2,1395.3 857.7,1388.3 C859.2,1381.3 860.9,1374.8 863.1,1370.2 C865.3,1365.6 866.4,1363.3 870.9,1360.6 C875.4,1357.9 883.0,1356.1 890.2,1354.0 C897.4,1351.9 908.2,1350.2 914.2,1348.0 C920.2,1345.8 922.9,1343.5 926.2,1340.8 C929.5,1338.1 931.3,1334.6 934.1,1332.0 C936.9,1329.4 940.2,1327.0 943.2,1325.2 C946.2,1323.4 949.4,1322.3 952.2,1321.1 C955.0,1319.9 955.4,1319.3 960.0,1318.0 C964.6,1316.7 973.3,1314.2 980.0,1313.0 C986.7,1311.8 988.3,1311.0 1000.0,1311.0 C1011.7,1311.0 1033.3,1312.3 1050.0,1313.0 C1066.7,1313.7 1086.7,1314.4 1100.0,1315.0 C1113.3,1315.6 1121.7,1315.8 1130.0,1316.5 C1138.3,1317.2 1146.7,1318.6 1150.0,1319.0" fill="none" stroke="#ff0000" stroke-width="9" stroke-linejoin="round" stroke-linecap="butt" shape-rendering="crispEdges" clip-path="url(#c2)"/>
<path d="M191.0,1307.5 C191.7,1307.5 192.7,1307.5 195.0,1307.5 C197.3,1307.5 202.2,1307.8 205.0,1307.8 C207.8,1307.8 210.0,1307.7 212.0,1307.5 C214.0,1307.3 215.3,1306.8 217.0,1306.8 C218.7,1306.8 220.2,1307.2 222.0,1307.5 C223.8,1307.8 226.0,1308.2 228.0,1308.5 C230.0,1308.8 231.2,1309.2 234.0,1309.5 C236.8,1309.8 240.7,1310.3 245.0,1310.5 C249.3,1310.7 255.0,1310.8 260.0,1310.7 C265.0,1310.7 270.0,1310.2 275.0,1310.2 C280.0,1310.2 285.0,1310.5 290.0,1310.5 C295.0,1310.5 300.8,1310.4 305.0,1310.5 C309.2,1310.6 312.2,1310.7 315.0,1311.0 C317.8,1311.3 319.5,1312.0 322.0,1312.5 C324.5,1313.0 325.3,1313.4 330.0,1313.8 C334.7,1314.2 343.3,1313.9 350.0,1315.0 C356.7,1316.1 363.3,1319.3 370.0,1320.5 C376.7,1321.7 381.6,1321.5 390.0,1322.4 C398.4,1323.4 410.2,1324.8 420.2,1326.2 C430.2,1327.6 440.2,1328.8 450.2,1330.7 C460.2,1332.6 470.3,1335.1 480.3,1337.5 C490.3,1339.9 503.4,1343.6 510.4,1345.0 C517.4,1346.4 518.7,1346.5 522.0,1346.0 C525.3,1345.5 526.2,1344.8 530.0,1342.0 C533.8,1339.2 540.8,1332.4 545.0,1329.1 C549.2,1325.8 552.3,1324.1 555.5,1322.3 C558.7,1320.5 560.9,1319.1 564.0,1318.5 C567.1,1317.9 570.4,1318.5 574.1,1318.9 C577.8,1319.3 582.1,1319.9 586.1,1320.7 C590.1,1321.5 594.1,1322.5 598.1,1324.0 C602.1,1325.5 606.2,1327.7 610.2,1329.7 C614.2,1331.8 618.2,1333.5 622.2,1336.3 C626.2,1339.1 630.2,1342.5 634.2,1346.5 C638.2,1350.5 642.2,1355.5 646.2,1360.4 C650.2,1365.3 654.3,1370.7 658.3,1376.0 C662.3,1381.3 666.3,1387.8 670.3,1392.3 C674.3,1396.8 678.3,1401.0 682.3,1403.1 C686.3,1405.2 690.4,1405.0 694.4,1405.0 C698.4,1405.0 701.5,1403.5 706.0,1403.0 C710.5,1402.5 717.1,1401.4 721.7,1401.7 C726.3,1402.0 730.1,1403.0 733.7,1404.7 C737.3,1406.4 740.3,1409.3 743.3,1411.9 C746.3,1414.5 749.8,1417.3 751.7,1420.3 C753.7,1423.3 754.0,1426.7 755.0,1430.0 C756.0,1433.3 756.5,1436.7 757.5,1440.0 C758.5,1443.3 759.2,1444.0 760.8,1450.0 C762.4,1456.0 764.6,1465.7 767.1,1476.1 C769.6,1486.5 773.0,1500.2 775.5,1512.2 C778.0,1524.2 780.1,1536.3 782.1,1548.3 C784.1,1560.3 786.1,1576.6 787.2,1584.4 C788.3,1592.2 787.7,1588.0 788.5,1595.0 C789.3,1602.0 790.6,1614.9 791.9,1626.1 C793.2,1637.3 794.7,1650.2 796.1,1662.2 C797.5,1674.2 799.0,1689.3 800.5,1698.3 C802.0,1707.3 804.1,1710.3 805.1,1716.3 C806.1,1722.3 805.5,1729.8 806.3,1734.4 C807.1,1739.0 808.6,1743.4 810.0,1744.0 C811.4,1744.6 813.7,1743.6 814.5,1738.0 C815.3,1732.4 814.7,1718.9 815.0,1710.3 C815.3,1701.7 816.1,1694.2 816.5,1686.2 C816.9,1678.2 816.9,1670.2 817.1,1662.2 C817.3,1654.2 817.2,1646.1 817.7,1638.1 C818.2,1630.1 819.6,1620.4 820.2,1614.1 C820.8,1607.8 821.2,1605.0 821.4,1600.0 C821.6,1595.0 821.2,1593.0 821.4,1584.4 C821.6,1575.8 821.9,1560.3 822.4,1548.3 C822.9,1536.3 823.6,1524.2 824.2,1512.2 C824.9,1500.2 825.5,1488.1 826.3,1476.1 C827.1,1464.1 828.4,1447.3 829.0,1440.0 C829.6,1432.7 829.4,1437.6 830.2,1432.3 C831.0,1427.0 832.6,1415.6 833.8,1408.3 C835.0,1401.0 835.8,1394.0 837.2,1388.3 C838.6,1382.5 840.0,1378.2 842.0,1373.8 C844.0,1369.4 846.2,1365.2 849.2,1361.8 C852.2,1358.4 856.3,1355.8 860.1,1353.4 C863.9,1351.0 868.1,1349.6 872.1,1347.4 C876.1,1345.2 879.8,1342.9 884.1,1340.2 C888.4,1337.5 892.7,1334.5 898.0,1331.5 C903.3,1328.5 910.1,1324.5 916.1,1322.0 C922.1,1319.5 928.1,1318.0 934.1,1316.6 C940.1,1315.1 946.2,1314.0 952.2,1313.3 C958.2,1312.5 964.2,1312.5 970.2,1312.1 C976.2,1311.7 983.3,1311.2 988.3,1310.9 C993.3,1310.6 993.9,1310.1 1000.0,1310.3 C1006.1,1310.5 1015.8,1311.6 1025.0,1312.2 C1034.2,1312.8 1047.5,1313.1 1055.0,1313.7 C1062.5,1314.3 1062.5,1315.0 1070.0,1315.9 C1077.5,1316.8 1092.5,1318.2 1100.0,1318.9 C1107.5,1319.7 1110.0,1320.1 1115.0,1320.4 C1120.0,1320.7 1125.0,1321.2 1130.0,1320.9 C1135.0,1320.7 1141.7,1319.4 1145.0,1318.9 C1148.3,1318.4 1149.2,1318.2 1150.0,1318.0" fill="none" stroke="#0000ff" stroke-width="8.5" stroke-linejoin="round" stroke-linecap="butt" shape-rendering="crispEdges" clip-path="url(#c2)"/>
<path d="M190.0,1307.5 C190.9,1307.5 193.8,1307.5 195.5,1307.5 C197.2,1307.5 198.6,1307.8 200.0,1307.8 C201.4,1307.8 202.3,1308.7 204.0,1307.8 C205.7,1306.9 208.0,1303.5 210.0,1302.5 C212.0,1301.5 213.3,1301.9 216.0,1301.8 C218.7,1301.7 223.3,1301.5 226.0,1302.0 C228.7,1302.5 230.0,1304.0 232.0,1304.6 C234.0,1305.2 234.0,1305.3 238.0,1305.7 C242.0,1306.1 250.7,1306.7 256.0,1306.7 C261.3,1306.7 265.6,1305.8 270.0,1305.9 C274.4,1306.0 279.3,1307.0 282.6,1307.5 C285.9,1308.0 287.5,1308.4 290.0,1309.0 C292.5,1309.6 295.2,1310.5 297.7,1311.0 C300.2,1311.5 301.8,1311.6 305.0,1311.7 C308.2,1311.8 313.4,1312.0 316.7,1311.8 C320.0,1311.6 321.1,1310.7 325.0,1310.5 C328.9,1310.3 334.2,1310.3 340.0,1310.8 C345.8,1311.3 351.7,1312.1 360.0,1313.3 C368.3,1314.5 382.5,1316.5 390.0,1317.9 C397.5,1319.3 397.6,1320.9 405.1,1321.9 C412.6,1322.9 425.2,1322.2 435.2,1323.9 C445.2,1325.6 455.3,1329.4 465.3,1331.8 C475.3,1334.2 487.8,1336.5 495.3,1338.1 C502.8,1339.7 506.6,1340.8 510.4,1341.5 C514.2,1342.2 514.7,1342.0 518.0,1342.0 C521.3,1342.0 525.5,1342.7 530.0,1341.5 C534.5,1340.3 541.3,1337.4 545.0,1335.0 C548.7,1332.6 549.2,1329.4 552.0,1327.0 C554.8,1324.6 558.3,1322.2 562.0,1320.7 C565.7,1319.2 568.1,1318.0 574.1,1317.9 C580.1,1317.8 590.1,1318.3 598.1,1320.1 C606.1,1321.9 616.2,1325.8 622.2,1328.5 C628.2,1331.2 630.2,1333.0 634.2,1336.3 C638.2,1339.6 642.2,1343.8 646.2,1348.3 C650.2,1352.8 654.3,1358.1 658.3,1363.4 C662.3,1368.7 666.3,1374.8 670.3,1380.2 C674.3,1385.6 678.7,1392.1 682.3,1395.9 C685.9,1399.7 689.0,1401.7 692.0,1403.0 C695.0,1404.3 696.7,1404.6 700.0,1403.5 C703.3,1402.4 708.0,1399.1 712.0,1396.2 C716.0,1393.3 720.1,1388.2 724.1,1386.0 C728.1,1383.8 732.1,1382.8 736.1,1382.8 C740.1,1382.8 744.1,1384.3 748.1,1386.0 C752.1,1387.7 757.0,1390.7 760.2,1393.2 C763.4,1395.7 765.3,1398.5 767.4,1401.0 C769.5,1403.5 770.4,1403.1 772.8,1408.3 C775.2,1413.5 779.9,1427.0 781.8,1432.3 C783.6,1437.6 782.8,1435.7 783.9,1440.0 C785.0,1444.3 786.8,1452.0 788.3,1458.0 C789.8,1464.0 791.3,1470.1 792.9,1476.1 C794.5,1482.1 796.2,1488.0 797.8,1494.0 C799.4,1500.0 801.0,1506.2 802.6,1512.2 C804.2,1518.2 805.7,1524.0 807.2,1530.0 C808.7,1536.0 810.3,1542.3 811.6,1548.3 C812.9,1554.3 814.0,1560.0 815.0,1566.0 C816.0,1572.0 816.8,1579.0 817.5,1584.0 C818.2,1589.0 818.4,1591.0 819.0,1596.0 C819.6,1601.0 819.8,1607.0 821.0,1614.0 C822.2,1621.0 824.6,1631.8 826.2,1638.1 C827.8,1644.4 829.3,1648.8 830.5,1652.0 C831.7,1655.2 832.1,1657.5 833.4,1657.5 C834.7,1657.5 836.8,1655.2 838.2,1652.0 C839.6,1648.8 840.1,1644.4 841.8,1638.1 C843.5,1631.8 846.8,1622.1 848.4,1614.1 C850.0,1606.1 850.7,1595.0 851.4,1590.0 C852.1,1585.0 851.6,1591.4 852.5,1584.4 C853.4,1577.5 855.5,1560.3 856.7,1548.3 C857.9,1536.3 858.7,1524.2 859.9,1512.2 C861.1,1500.2 862.5,1488.1 863.9,1476.1 C865.3,1464.1 867.0,1450.6 868.2,1440.0 C869.4,1429.4 869.9,1420.9 870.9,1412.3 C871.9,1403.7 873.3,1395.3 874.5,1388.3 C875.7,1381.3 876.9,1375.4 878.1,1370.2 C879.3,1365.0 880.1,1360.6 881.7,1357.0 C883.3,1353.4 884.3,1350.6 887.7,1348.6 C891.1,1346.6 895.8,1346.3 902.2,1345.0 C908.6,1343.7 918.2,1342.7 926.2,1340.8 C934.2,1338.9 944.5,1335.7 950.3,1333.5 C956.1,1331.3 957.9,1330.4 961.2,1327.9 C964.5,1325.4 967.2,1321.0 970.2,1318.7 C973.2,1316.4 976.2,1315.0 979.2,1313.9 C982.2,1312.8 984.8,1312.6 988.3,1312.1 C991.8,1311.6 996.4,1311.0 1000.0,1310.9 C1003.6,1310.8 1003.3,1311.1 1010.0,1311.3 C1016.7,1311.5 1030.2,1311.5 1040.2,1312.1 C1050.2,1312.6 1060.2,1313.8 1070.2,1314.6 C1080.2,1315.3 1090.3,1316.2 1100.3,1316.6 C1110.3,1317.0 1119.1,1316.7 1130.4,1316.9 C1141.7,1317.1 1161.7,1317.5 1168.0,1317.6" fill="none" stroke="#008080" stroke-width="10" stroke-linejoin="round" stroke-linecap="butt" shape-rendering="crispEdges" clip-path="url(#c2)"/>
<path shape-rendering="crispEdges" d="M179,1307 C179,1301 181,1297 186,1297 L193,1297 Q196.5,1297 197,1303 L197,1312.5 L190,1312.5 L188.5,1311 L187,1311 L186,1315 L181.5,1315 Q179,1314 179,1312 Z" fill="#008080"/>
<rect x="1052.5" y="40.5" width="222" height="180" fill="#fff" stroke="#000" stroke-width="1"/>
<rect x="1058" y="59" width="81" height="9" fill="#000"/>
<text filter="url(#al)" x="1148" y="76" font-family="Liberation Serif" font-size="36" style="font-kerning:none" text-anchor="start" >EVA</text>
<rect x="1058" y="104" width="81" height="9" fill="#f00"/>
<text filter="url(#al)" x="1148" y="121" font-family="Liberation Serif" font-size="36" style="font-kerning:none" text-anchor="start" >EFMgO</text>
<rect x="1058" y="149" width="81" height="8" fill="#00f"/>
<text filter="url(#al)" x="1148" y="166" font-family="Liberation Serif" font-size="36" style="font-kerning:none" text-anchor="start" >ELDH-1</text>
<rect x="1058" y="194" width="81" height="10" fill="#008080"/>
<text filter="url(#al)" x="1148" y="211" font-family="Liberation Serif" font-size="36" style="font-kerning:none" text-anchor="start" >ELDH-2</text>
<rect x="189.5" y="1856.5" width="221" height="180" fill="#fff" stroke="#000" stroke-width="1"/>
<rect x="195" y="1875" width="80" height="9" fill="#000"/>
<text filter="url(#al)" x="285" y="1891.7" font-family="Liberation Serif" font-size="36" style="font-kerning:none" text-anchor="start" >EVA</text>
<rect x="195" y="1920" width="80" height="9" fill="#f00"/>
<text filter="url(#al)" x="285" y="1937" font-family="Liberation Serif" font-size="36" style="font-kerning:none" text-anchor="start" >EFMgO</text>
<rect x="195" y="1965" width="80" height="8.5" fill="#00f"/>
<text filter="url(#al)" x="285" y="1982" font-family="Liberation Serif" font-size="36" style="font-kerning:none" text-anchor="start" >ELDH-1</text>
<rect x="195" y="2010" width="80" height="10" fill="#008080"/>
<text filter="url(#al)" x="285" y="2028" font-family="Liberation Serif" font-size="36" style="font-kerning:none" text-anchor="start" >ELDH-2</text></svg></body></html>
